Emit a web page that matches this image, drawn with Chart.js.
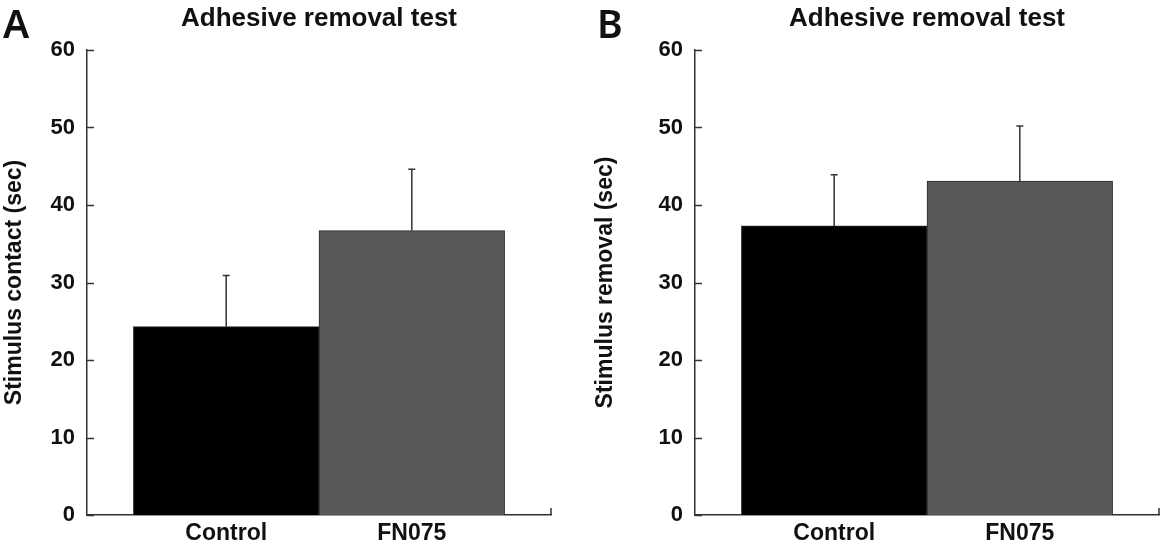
<!DOCTYPE html>
<html>
<head>
<meta charset="utf-8">
<script src="https://cdn.jsdelivr.net/npm/chart.js@4.4.1/dist/chart.umd.min.js"></script>
<style>
  body { margin: 0; width: 1160px; height: 546px; overflow: hidden; background: #fff; }
  .panel { position: absolute; top: 0; width: 580px; height: 546px; }
</style>
</head>
<body>
<div class="panel" style="left:0"><canvas id="chartA"></canvas></div>
<div class="panel" style="left:580px"><canvas id="chartB"></canvas></div>
<script>
const categories = ['Control', 'FN075']
const barColors = ['#000000', '#58585a']
const yTicks = [0, 10, 20, 30, 40, 50, 60]

// panel A: stimulus contact
const contactMeans = [24.3, 36.7]
const contactErrors = [6.6, 7.9]
// panel B: stimulus removal
const removalMeans = [37.3, 43.1]
const removalErrors = [6.6, 7.1]

const FONT = "'Liberation Sans', Arial, sans-serif"
const axisColor = '#333333'
const textColor = '#111111'

// error bars, inward ticks, title and panel letter
const extras = {
  id: 'extras',
  afterDatasetsDraw(chart) {
    const ctx = chart.ctx
    const y = chart.scales.y
    const ds = chart.data.datasets[0]
    const meta = chart.getDatasetMeta(0)
    ctx.save()
    ctx.strokeStyle = axisColor
    ctx.lineWidth = 1.5
    meta.data.forEach((bar, i) => {
      const top = y.getPixelForValue(ds.data[i].y + ds.errors[i])
      ctx.beginPath()
      ctx.moveTo(bar.x, bar.y)
      ctx.lineTo(bar.x, top)
      ctx.moveTo(bar.x - 3.5, top)
      ctx.lineTo(bar.x + 3.5, top)
      ctx.stroke()
    })
    ctx.restore()
  },
  afterDraw(chart, args, opts) {
    const ctx = chart.ctx
    const area = chart.chartArea
    const y = chart.scales.y
    ctx.save()
    ctx.strokeStyle = axisColor
    ctx.lineWidth = 1.5
    ctx.beginPath()
    y.ticks.forEach(t => {
      const py = Math.round(y.getPixelForValue(t.value)) + 0.5
      ctx.moveTo(area.left, py)
      ctx.lineTo(area.left + 7, py)
    })
    ctx.moveTo(area.right, area.bottom)
    ctx.lineTo(area.right, area.bottom - 7)
    ctx.stroke()

    ctx.fillStyle = textColor
    ctx.textBaseline = 'alphabetic'
    ctx.textAlign = 'center'
    ctx.font = 'bold 26px ' + FONT
    ctx.fillText(opts.title, (area.left + area.right) / 2, 26)
    ctx.textAlign = 'left'
    ctx.font = "600 39px 'Noto Sans', sans-serif"
    ctx.fillText(opts.letter, opts.letterX, 38)
    ctx.restore()
  }
}

function makeChart(id, means, errors, yLabel, letter, letterX, padLeft, axisLeft) {
  const ctx = document.getElementById(id)
  return new Chart(ctx, {
    type: 'bar',
    data: {
      datasets: [{
        data: categories.map((c, i) => ({ x: i + 1, y: means[i] })),
        errors: errors,
        backgroundColor: barColors,
        borderColor: '#2a2a2a',
        borderWidth: 1,
        barPercentage: 1,
        categoryPercentage: 1
      }]
    },
    options: {
      responsive: true,
      maintainAspectRatio: false,
      animation: false,
      layout: { padding: { left: padLeft, right: 580 - axisLeft - 464, top: 50, bottom: 0 } },
      plugins: {
        legend: { display: false },
        tooltip: { enabled: false },
        extras: { title: 'Adhesive removal test', letter: letter, letterX: letterX }
      },
      scales: {
        x: {
          type: 'linear',
          offset: false,
          min: 0.25,
          max: 2.75,
          grid: { display: false, drawTicks: false },
          border: { display: true, color: axisColor, width: 1.5 },
          afterBuildTicks: s => { s.ticks = categories.map((c, i) => ({ value: i + 1 })) },
          ticks: {
            autoSkip: false,
            maxRotation: 0,
            padding: 5,
            color: textColor,
            font: { family: FONT, size: 23, weight: 'bold' },
            callback: v => categories[Math.round(v) - 1] || ''
          },
          afterFit: s => { s.height = 31 }
        },
        y: {
          min: 0,
          max: 60,
          grid: { display: false, drawTicks: false },
          border: { display: true, color: axisColor, width: 1.5 },
          afterBuildTicks: s => { s.ticks = yTicks.map(v => ({ value: v })) },
          ticks: {
            padding: 12,
            color: textColor,
            font: { family: FONT, size: 22, weight: 'bold' }
          },
          title: {
            display: true,
            text: yLabel,
            color: textColor,
            padding: { top: 1, bottom: 0 },
            font: { family: FONT, size: 23, weight: 'bold' }
          },
          afterFit: s => { s.width = axisLeft - padLeft }
        }
      }
    },
    plugins: [extras]
  })
}

makeChart('chartA', contactMeans, contactErrors, 'Stimulus contact (sec)', 'A', 3, 0, 87)
makeChart('chartB', removalMeans, removalErrors, 'Stimulus removal (sec)', 'B', 17, 11, 115)
</script>
</body>
</html>
